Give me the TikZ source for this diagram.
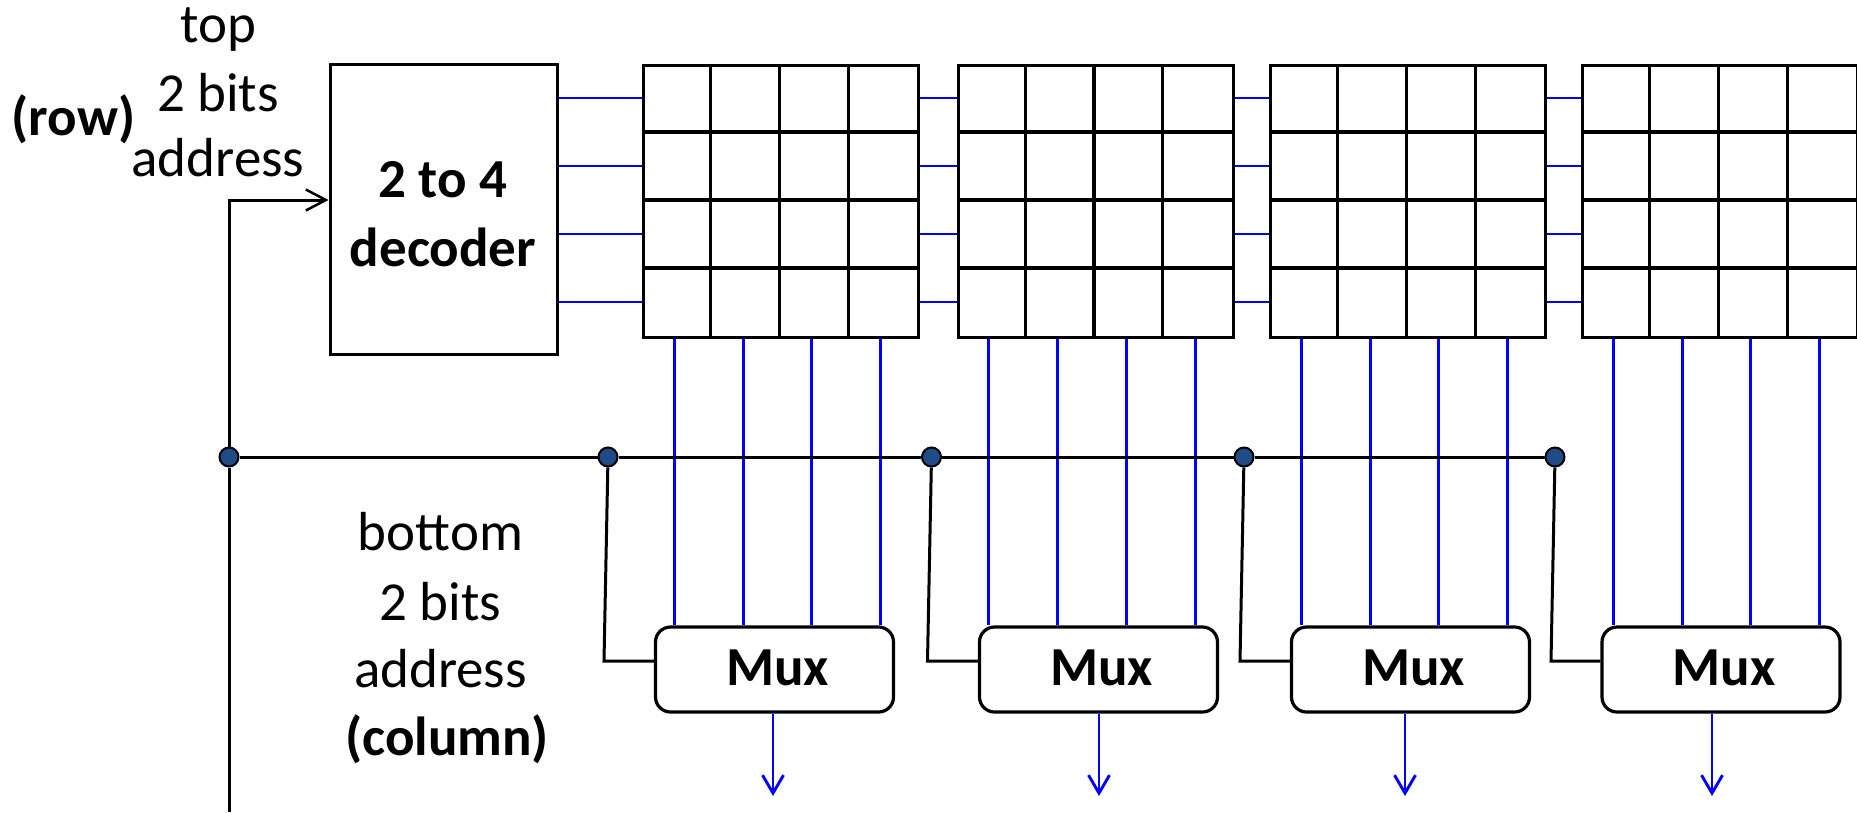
\documentclass[tikz,border=0pt]{standalone}
\usepackage{fontspec}
\setmainfont{Carlito}
\usetikzlibrary{arrows.meta}
\definecolor{wireblue}{RGB}{0,0,255}
\definecolor{dotblue}{RGB}{31,76,134}

\tikzset{
  txt/.style={inner sep=0pt, anchor=base, font=\fontsize{55}{68}\selectfont},
  btxt/.style={txt, font=\fontsize{55}{68}\selectfont\bfseries},
  blk/.style={draw=black, line width=3pt, inner sep=0pt},
  gridbox/.style={blk, line width=3.4pt, minimum width=275pt, minimum height=272pt},
  muxbox/.style={blk, line width=3.2pt, rounded corners=15pt, minimum width=238pt, minimum height=85pt},
  junction/.style={circle, draw=black, line width=2pt, fill=dotblue, minimum size=19pt, inner sep=0pt},
  wire/.style={draw=wireblue, line width=2.9pt},
  addr/.style={draw=black, line width=3pt},
  outarrow/.style={wire, -{Straight Barb[length=18pt, width=21pt, line width=2.9pt]}},
  inarrow/.style={addr, -{Straight Barb[length=20pt, width=21pt, line width=2.5pt]}}
}

\begin{document}
\begin{tikzpicture}[x=1pt, y=-1pt]
  \useasboundingbox (0,0) rectangle (1857,812);

  % row decoder
  \node[blk, minimum width=227pt, minimum height=290pt] (dec) at (443.5,209) {};
  \node[btxt] (dect1) at (443,197) {2 to 4};
  \node[btxt] (dect2) at (443,266) {decoder};

  % four 4x4 memory arrays
  \foreach \k/\lx in {1/642, 2/956.5, 3/1269, 4/1581} {
    \node[gridbox, anchor=north west] (g\k) at (\lx,64) {};
    \foreach \i in {1,2,3} {
      \draw[line width=3.4pt] ([xshift=\i*68.75pt]g\k.north west) -- ([xshift=\i*68.75pt]g\k.south west);
      \draw[line width=3.4pt] ([yshift=-\i*68pt]g\k.north west) -- ([yshift=-\i*68pt]g\k.north east);
    }
  }

  % column multiplexers
  \foreach \k/\cx in {1/774.5, 2/1098.5, 3/1410.5, 4/1721} {
    \node[muxbox] (mux\k) at (\cx,669.5) {};
    \node[btxt] (muxt\k) at (\cx+3,685) {Mux};
  }

  % word lines: decoder -> arrays, array -> array
  \foreach \r in {1,2,3,4} {
    \coordinate (w\r) at ([yshift=-(\r-0.5)*68pt]g1.north west);
    \draw[wire] (w\r -| dec.east) -- (w\r);
    \foreach \k/\n in {1/2, 2/3, 3/4} {
      \draw[wire] (w\r -| g\k.east) -- (w\r -| g\n.west);
    }
  }

  % bit lines: array -> multiplexer
  \foreach \k in {1,2,3,4} {
    \foreach \c in {1,2,3,4} {
      \coordinate (b\k\c) at ([xshift=(\c-0.5)*68.75pt-2pt]g\k.south west);
      \draw[wire] (b\k\c) -- (b\k\c |- mux\k.north);
    }
  }

  % multiplexer outputs
  \foreach \k/\ox in {1/773, 2/1099, 3/1405, 4/1712} {
    \coordinate (o\k) at (\ox,796);
    \draw[outarrow] (o\k |- mux\k.south) -- (o\k);
  }

  % address lines and junctions
  \node[junction] (d0) at (229,457) {};
  \node[junction] (d1) at (608,457) {};
  \node[junction] (d2) at (931.5,457) {};
  \node[junction] (d3) at (1244,457) {};
  \node[junction] (d4) at (1555,457) {};

  \coordinate (rowin) at (229,200);
  \coordinate (addrbot) at (229,812);
  \draw[addr] (d0) -- (addrbot);
  \draw[addr] (d0) -- (rowin);
  \draw[inarrow] ([xshift=-1.5pt]rowin) -- (rowin -| dec.west);

  \draw[addr] (d0) -- (d1);
  \draw[addr] (d1) -- (d2);
  \draw[addr] (d2) -- (d3);
  \draw[addr] (d3) -- (d4);

  \foreach \k/\dx in {1/604, 2/927.5, 3/1240, 4/1551} {
    \coordinate (s\k) at (\dx,661);
    \draw[addr] (d\k) -- (s\k) -- (s\k -| mux\k.west);
  }

  % address labels
  \node[txt] (tt1) at (218,42) {top};
  \node[txt] (tt2) at (218,111.5) {2 bits};
  \node[txt] (tt3) at (218,176.5) {address};
  \node[btxt] (rowlbl) at (73.5,135) {(row)};

  \node[txt] (bt1) at (440.5,550) {bottom};
  \node[txt] (bt2) at (440.5,620) {2 bits};
  \node[txt] (bt3) at (440.5,687) {address};
  \node[btxt] (bt4) at (447,755) {(column)};
\end{tikzpicture}
\end{document}
